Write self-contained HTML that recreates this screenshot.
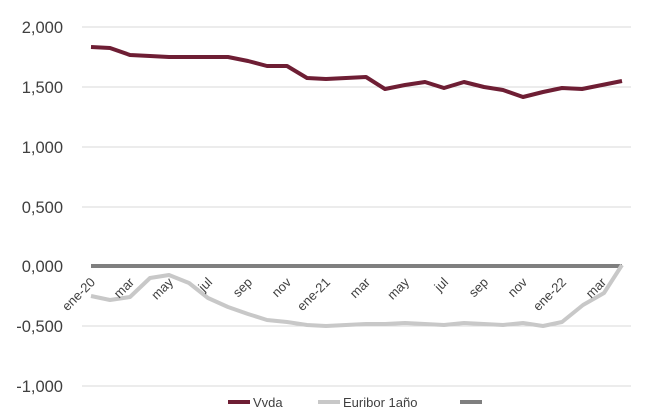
<!DOCTYPE html>
<html><head><style>body{margin:0;background:#fff}svg{display:block}text{font-family:"Liberation Sans",sans-serif;fill:#404040}</style></head>
<body>
<svg width="664" height="409" viewBox="0 0 664 409">
<g stroke="#d9d9d9" stroke-width="1">
<line x1="82" x2="631" y1="27" y2="27"/><line x1="82" x2="631" y1="87" y2="87"/><line x1="82" x2="631" y1="147" y2="147"/><line x1="82" x2="631" y1="207" y2="207"/><line x1="82" x2="631" y1="326" y2="326"/><line x1="82" x2="631" y1="386" y2="386"/>
</g>
<g font-size="16.5" text-anchor="end" style="fill:#333">
<text x="63" y="33">2,000</text><text x="63" y="93">1,500</text><text x="63" y="153">1,000</text><text x="63" y="213">0,500</text><text x="63" y="272">0,000</text><text x="63" y="332">-0,500</text><text x="63" y="392">-1,000</text>
</g>
<line x1="91" x2="622" y1="266" y2="266" stroke="#7f7f7f" stroke-width="4"/>
<polyline fill="none" stroke="#c8c8c8" stroke-width="4" stroke-linejoin="round" points="91,296 110,300 130,297 150,278 169,275 189,283 208,298 228,307 248,314 267,320 287,322 307,325 326,326 346,325 366,324 385,324 405,323 425,324 444,325 464,323 484,324 503,325 523,323 543,326 562,322 583,305 604,293 622,265"/>
<polyline fill="none" stroke="#6e1e34" stroke-width="4" stroke-linejoin="round" points="91,47 110,48 130,55 150,56 169,57 189,57 208,57 228,57 248,61 267,66 287,66 307,78 326,79 346,78 366,77 385,89 405,85 425,82 444,88 464,82 484,87 503,90 523,97 543,92 562,88 582,89 602,85 622,81"/>
<g font-size="13" text-anchor="end">
<text transform="translate(96,283) rotate(-45)">ene-20</text>
<text transform="translate(135,283) rotate(-45)">mar</text>
<text transform="translate(174,283) rotate(-45)">may</text>
<text transform="translate(213,283) rotate(-45)">jul</text>
<text transform="translate(253,283) rotate(-45)">sep</text>
<text transform="translate(292,283) rotate(-45)">nov</text>
<text transform="translate(331,283) rotate(-45)">ene-21</text>
<text transform="translate(371,283) rotate(-45)">mar</text>
<text transform="translate(410,283) rotate(-45)">may</text>
<text transform="translate(449,283) rotate(-45)">jul</text>
<text transform="translate(489,283) rotate(-45)">sep</text>
<text transform="translate(528,283) rotate(-45)">nov</text>
<text transform="translate(567,283) rotate(-45)">ene-22</text>
<text transform="translate(607,283) rotate(-45)">mar</text>
</g>
<line x1="228" x2="250" y1="402" y2="402" stroke="#6e1e34" stroke-width="4"/>
<text x="253" y="407" font-size="13">Vvda</text>
<line x1="318" x2="340" y1="402" y2="402" stroke="#c8c8c8" stroke-width="4"/>
<text x="343" y="407" font-size="13">Euribor 1año</text>
<line x1="460" x2="482" y1="402" y2="402" stroke="#7f7f7f" stroke-width="4"/>
</svg>
</body></html>
